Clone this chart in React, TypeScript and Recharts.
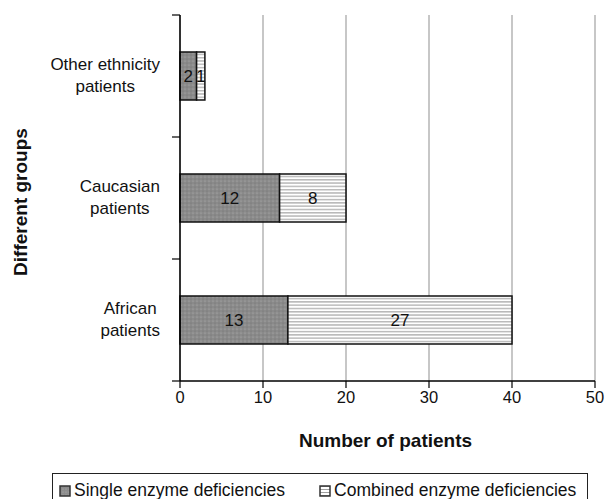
import React from "react";
import { BarChart, Bar, XAxis, YAxis, CartesianGrid, LabelList } from "recharts";

const groups = ["Other ethnicity\npatients", "Caucasian\npatients", "African\npatients"];
const singleValues = [2, 12, 13];
const combinedValues = [1, 8, 27];
const xTicks = [0, 10, 20, 30, 40, 50];
const seriesNames = ["Single enzyme deficiencies", "Combined enzyme deficiencies"];

const data = groups.map((g, i) => ({
  group: g,
  single: singleValues[i],
  combined: combinedValues[i]
}));

const FONT = "'Liberation Sans', Arial, sans-serif";
const MARGIN_LEFT = 80;
const Y_AXIS_WIDTH = 100;
const AXIS_X = MARGIN_LEFT + Y_AXIS_WIDTH;

let ctx: CanvasRenderingContext2D | null = null;
function textWidth(s: string, size: number) {
  if (!ctx) ctx = document.createElement("canvas").getContext("2d");
  if (!ctx) return s.length * size * 0.5;
  ctx.font = `${size}px ${FONT}`;
  return ctx.measureText(s).width;
}

function GroupTick(props: any) {
  const { y, payload, index } = props;
  const lines: string[] = String(payload.value).split("\n");
  const half = payload.offset ?? 61;
  const w = Math.max(...lines.map((l) => textWidth(l, 17)));
  const cx = AXIS_X - 20 - w / 2;
  const lh = 22;
  const top = y - ((lines.length - 1) * lh) / 2 - 1;
  return (
    <g>
      {index === 0 && (
        <line x1={AXIS_X - 8} x2={AXIS_X} y1={y - half} y2={y - half} stroke="#000" strokeWidth={1.2} />
      )}
      <line x1={AXIS_X - 8} x2={AXIS_X} y1={y + half} y2={y + half} stroke="#000" strokeWidth={1.2} />
      <text x={cx} y={top} textAnchor="middle" fontSize={17} fontFamily={FONT} fill="#111">
        {lines.map((l, i) => (
          <tspan key={i} x={cx} y={top + i * lh} dy="0.35em">
            {l}
          </tspan>
        ))}
      </text>
    </g>
  );
}

function YTitle(props: any) {
  const vb = props.viewBox || { y: 15, height: 366 };
  const cy = vb.y + vb.height / 2 + 4;
  return (
    <text
      x={20}
      y={cy}
      transform={`rotate(-90 20 ${cy})`}
      textAnchor="middle"
      dominantBaseline="central"
      fontSize={19}
      fontWeight="bold"
      fontFamily={FONT}
      fill="#111"
    >
      Different groups
    </text>
  );
}

function XTitle(props: any) {
  const vb = props.viewBox || { x: 180, width: 415, y: 381 };
  const cx = vb.x + vb.width / 2 - 2;
  return (
    <text
      x={cx}
      y={440}
      textAnchor="middle"
      dominantBaseline="central"
      fontSize={19}
      fontWeight="bold"
      fontFamily={FONT}
      fill="#111"
    >
      Number of patients
    </text>
  );
}

function LegendBox() {
  const icon = (kind: number) => (
    <svg width={12} height={12} style={{ marginRight: 3, verticalAlign: "-1px" }}>
      <rect x={1} y={1} width={10} height={10} fill={kind === 0 ? "url(#dotsL)" : "url(#linesL)"} stroke="#333" strokeWidth={1.5} />
    </svg>
  );
  return (
    <div
      style={{
        position: "absolute",
        left: 52,
        top: 473,
        width: 536,
        height: 40,
        border: "1px solid #222",
        boxSizing: "border-box",
        fontFamily: FONT,
        fontSize: 17.5,
        color: "#111",
        paddingLeft: 6,
        paddingTop: 6,
        whiteSpace: "nowrap"
      }}
    >
      <svg width={0} height={0} style={{ position: "absolute" }}>
        <defs>
          <pattern id="dotsL" width={3} height={3} patternUnits="userSpaceOnUse">
            <rect width={3} height={3} fill="#8c8c8c" />
            <circle cx={1} cy={1} r={0.5} fill="#b8b8b8" />
          </pattern>
          <pattern id="linesL" width={3} height={3} patternUnits="userSpaceOnUse">
            <rect width={3} height={3} fill="#fff" />
            <line x1={0} x2={3} y1={1.5} y2={1.5} stroke="#888" strokeWidth={0.8} />
          </pattern>
        </defs>
      </svg>
      <span>{icon(0)}{seriesNames[0]}</span>
      <span style={{ marginLeft: 34 }}>{icon(1)}{seriesNames[1]}</span>
    </div>
  );
}

export default function App() {
  return (
    <div style={{ position: "absolute", left: 0, top: 0, width: 605, height: 499, background: "#fff", overflow: "hidden" }}>
      <BarChart
        width={605}
        height={499}
        data={data}
        layout="vertical"
        margin={{ top: 15, right: 10, left: MARGIN_LEFT, bottom: 78 }}
        barSize={48}
      >
        <defs>
          <pattern id="dots" width={4} height={4} patternUnits="userSpaceOnUse">
            <rect width={4} height={4} fill="#8a8a8a" />
            <circle cx={1} cy={1} r={0.6} fill="#b3b3b3" />
            <circle cx={3} cy={3} r={0.5} fill="#6c6c6c" />
          </pattern>
          <pattern id="hlines" width={6} height={3.3} patternUnits="userSpaceOnUse">
            <rect width={6} height={3.3} fill="#fff" />
            <line x1={0} x2={6} y1={1.6} y2={1.6} stroke="#8a8a8a" strokeWidth={0.9} />
          </pattern>
        </defs>
        <CartesianGrid horizontal={false} stroke="#8f8f8f" strokeWidth={1} />
        <XAxis
          type="number"
          domain={[0, 50]}
          ticks={xTicks}
          interval={0}
          axisLine={{ stroke: "#000", strokeWidth: 1.5 }}
          tickLine={{ stroke: "#000", strokeWidth: 1.2 }}
          tickSize={7}
          tickMargin={3}
          height={40}
          tick={{ fontSize: 16.5, fontFamily: FONT, fill: "#111" }}
          label={{ content: XTitle }}
        />
        <XAxis
          xAxisId="top"
          type="number"
          orientation="top"
          domain={[0, 50]}
          height={0}
          tick={false}
          tickLine={false}
          axisLine={{ stroke: "#555", strokeWidth: 1.5 }}
        />
        <YAxis
          type="category"
          dataKey="group"
          width={Y_AXIS_WIDTH}
          interval={0}
          axisLine={{ stroke: "#000", strokeWidth: 1.5 }}
          tickLine={false}
          tickMargin={4}
          tick={<GroupTick />}
          label={{ content: YTitle }}
        />
        <Bar dataKey="single" stackId="a" fill="url(#dots)" stroke="#111" strokeWidth={1.5} isAnimationActive={false}>
          <LabelList dataKey="single" position="center" fontSize={17} fontFamily={FONT} fill="#111" />
        </Bar>
        <Bar dataKey="combined" stackId="a" fill="url(#hlines)" stroke="#111" strokeWidth={1.5} isAnimationActive={false}>
          <LabelList dataKey="combined" position="center" fontSize={17} fontFamily={FONT} fill="#111" />
        </Bar>
      </BarChart>
      <LegendBox />
    </div>
  );
}
